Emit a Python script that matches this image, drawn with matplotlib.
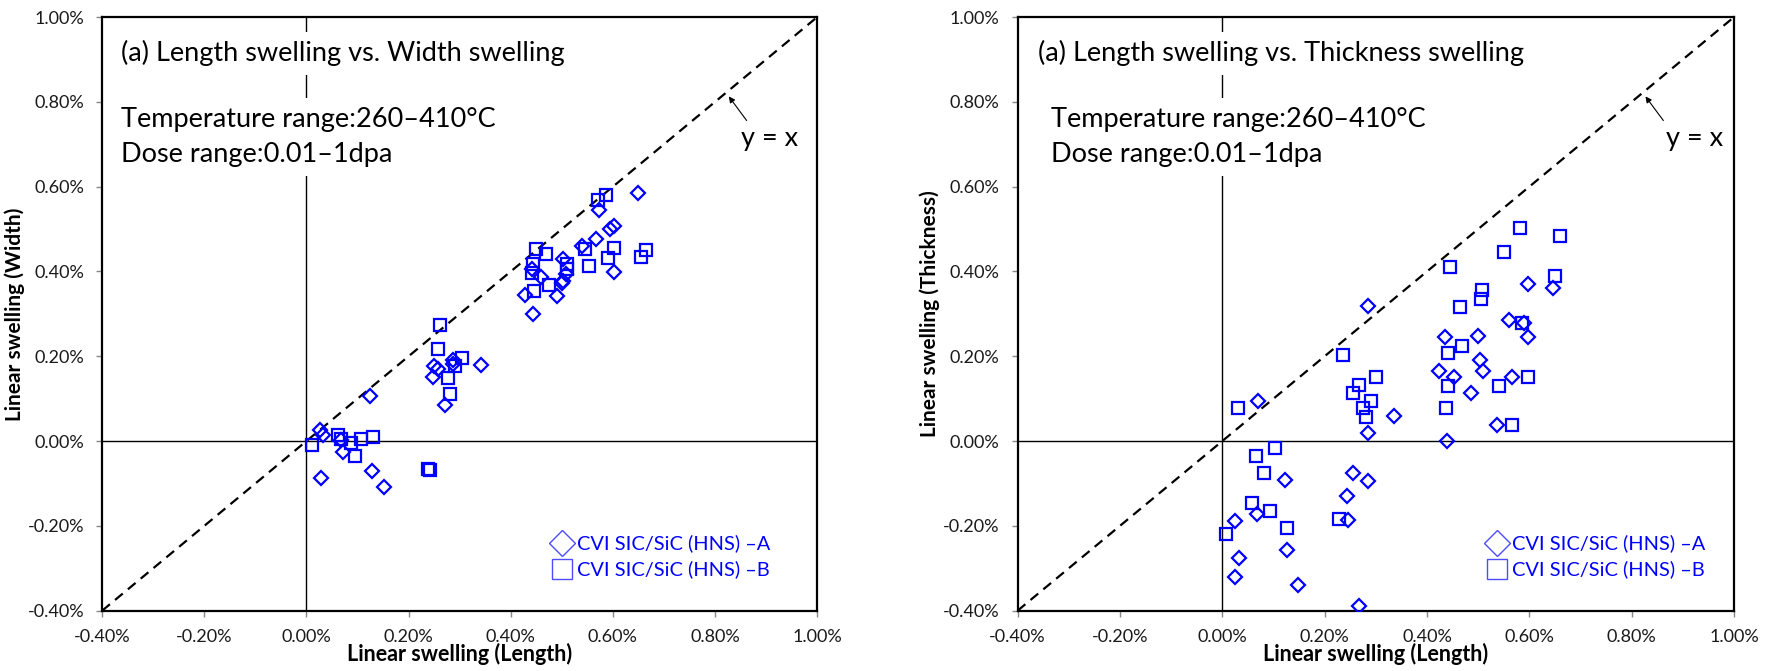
import matplotlib
matplotlib.use("Agg")
import matplotlib.pyplot as plt
from matplotlib.lines import Line2D
from matplotlib.ticker import FuncFormatter

plt.rcParams['font.family'] = ['Lato', 'DejaVu Sans']

# ---- Data (linear swelling, %) ----
# Panel 1: Length vs Width
len_A_w = [0.649, 0.572, 0.566, 0.594, 0.602, 0.539, 0.603, 0.502, 0.509, 0.503,
           0.500, 0.490, 0.459, 0.441, 0.427, 0.444, 0.341, 0.287, 0.287, 0.249,
           0.257, 0.248, 0.272, 0.125, 0.027, 0.033, 0.067, 0.071, 0.028, 0.128, 0.151]
width_A = [0.586, 0.546, 0.477, 0.499, 0.507, 0.460, 0.399, 0.430, 0.393, 0.377,
           0.372, 0.342, 0.388, 0.405, 0.344, 0.300, 0.180, 0.190, 0.182, 0.177,
           0.169, 0.152, 0.084, 0.107, 0.025, 0.015, 0.003, -0.026, -0.087, -0.071, -0.108]
len_B_w = [0.571, 0.587, 0.545, 0.602, 0.664, 0.655, 0.590, 0.554, 0.449, 0.469,
           0.444, 0.441, 0.474, 0.446, 0.510, 0.510, 0.261, 0.257, 0.305, 0.290,
           0.277, 0.282, 0.010, 0.061, 0.067, 0.087, 0.107, 0.130, 0.095, 0.238, 0.242]
width_B = [0.568, 0.581, 0.452, 0.456, 0.450, 0.434, 0.432, 0.413, 0.452, 0.442,
           0.417, 0.397, 0.368, 0.355, 0.417, 0.405, 0.273, 0.218, 0.196, 0.178,
           0.148, 0.110, -0.010, 0.015, 0.004, -0.004, 0.004, 0.010, -0.036, -0.066, -0.069]

# Panel 2: Length vs Thickness
len_A_t = [0.597, 0.646, 0.560, 0.589, 0.597, 0.436, 0.499, 0.503, 0.509, 0.423,
           0.453, 0.566, 0.486, 0.536, 0.439, 0.284, 0.336, 0.284, 0.069, 0.255,
           0.284, 0.244, 0.246, 0.122, 0.067, 0.025, 0.032, 0.025, 0.126, 0.147, 0.268]
thick_A = [0.370, 0.361, 0.286, 0.278, 0.246, 0.246, 0.248, 0.190, 0.166, 0.166,
           0.152, 0.152, 0.114, 0.039, 0.001, 0.319, 0.058, 0.019, 0.094, -0.075,
           -0.095, -0.130, -0.187, -0.092, -0.171, -0.188, -0.277, -0.321, -0.257, -0.340, -0.389]
len_B_t = [0.581, 0.659, 0.551, 0.444, 0.650, 0.507, 0.506, 0.465, 0.586, 0.469,
           0.442, 0.236, 0.301, 0.597, 0.268, 0.255, 0.541, 0.441, 0.290, 0.275,
           0.280, 0.438, 0.566, 0.030, 0.103, 0.065, 0.081, 0.058, 0.093, 0.126, 0.008, 0.228]
thick_B = [0.502, 0.484, 0.445, 0.410, 0.390, 0.356, 0.334, 0.317, 0.278, 0.225,
           0.207, 0.204, 0.150, 0.150, 0.133, 0.114, 0.131, 0.131, 0.094, 0.077,
           0.057, 0.077, 0.039, 0.077, -0.017, -0.035, -0.075, -0.147, -0.165, -0.205, -0.220, -0.184]

ticks = [-0.4, -0.2, 0.0, 0.2, 0.4, 0.6, 0.8, 1.0]
lims = (-0.4, 1.0)
titles = ["(a) Length swelling vs. Width swelling",
          "(a) Length swelling vs. Thickness swelling"]
ylabels = ["Linear swelling (Width)", "Linear swelling (Thickness)"]
xlabel = "Linear swelling (Length)"
cond1 = "Temperature range:260\u2013410\u00b0C"
cond2 = "Dose range:0.01\u20131dpa"
leg_labels = ["CVI SIC/SiC (HNS) \u2013A", "CVI SIC/SiC (HNS) \u2013B"]

BLUE = '#0000ff'
FS_TEXT = 19.5

fig = plt.figure(figsize=(17.81, 6.71), dpi=100)
ax1 = fig.add_axes([0.0574, 0.0900, 0.4014, 0.8845])
ax2 = fig.add_axes([0.5714, 0.0900, 0.4022, 0.8845])

panels = [
    (ax1, len_A_w, width_A, len_B_w, width_B, 0.0256, 0.0256, 0.893, 0.642),
    (ax2, len_A_t, thick_A, len_B_t, thick_B, 0.0288, 0.0472, 0.905, 0.668),
]

fmt = FuncFormatter(lambda v, p: f"{v:.2f}%")

for i, (ax, xa, ya, xb, yb, tx, cx, yx, lx) in enumerate(panels):
    ax.set_xlim(*lims)
    ax.set_ylim(*lims)
    ax.set_xticks(ticks)
    ax.set_yticks(ticks)
    ax.xaxis.set_major_formatter(fmt)
    ax.yaxis.set_major_formatter(fmt)
    ax.tick_params(direction='out', length=4, width=1, color='#888888',
                   labelsize=13, labelcolor='#1a1a1a', pad=9)
    for s in ax.spines.values():
        s.set_linewidth(1.6)
        s.set_color('black')

    ax.axhline(0, color='black', lw=1.0, zorder=1)
    ax.axvline(0, color='black', lw=1.0, zorder=1)
    ax.plot(lims, lims, color='black', lw=1.6, ls=(0, (4.5, 3.0)), zorder=2)

    ax.plot(xa, ya, ls='none', marker='D', ms=7.2, mfc='none', mec=BLUE, mew=1.6, zorder=4)
    ax.plot(xb, yb, ls='none', marker='s', ms=8.2, mfc='none', mec=BLUE, mew=1.6, zorder=4)

    ax.set_xlabel(xlabel, fontsize=15.5, fontweight='bold', labelpad=-1)
    ax.set_ylabel(ylabels[i], fontsize=15, fontweight='bold', labelpad=2)

    box = dict(facecolor='white', edgecolor='none', pad=6)
    ax.text(tx, 0.939, titles[i], transform=ax.transAxes, fontsize=FS_TEXT,
            ha='left', va='center', bbox=box, zorder=5)
    ax.text(cx, 0.828, cond1, transform=ax.transAxes, fontsize=FS_TEXT,
            ha='left', va='center', bbox=box, zorder=5)
    ax.text(cx, 0.768, cond2, transform=ax.transAxes, fontsize=FS_TEXT,
            ha='left', va='center', bbox=box, zorder=5)
    ax.text(yx, 0.795, "y = x", transform=ax.transAxes, fontsize=FS_TEXT,
            ha='left', va='center', zorder=5)
    ax.annotate('', xy=(0.827, 0.813), xytext=(0.862, 0.756),
                arrowprops=dict(arrowstyle='-|>', color='black', lw=0.8,
                                mutation_scale=9, shrinkA=0, shrinkB=0))

    handles = [Line2D([], [], ls='none', marker='D', ms=13, mfc='none', mec='#4d4dff', mew=1.0),
               Line2D([], [], ls='none', marker='s', ms=14, mfc='none', mec='#4d4dff', mew=1.0)]
    ax.legend(handles, leg_labels, loc='center left', bbox_to_anchor=(lx - 0.03, 0.091),
              frameon=False, fontsize=14.4, labelcolor=BLUE, handletextpad=0.15,
              labelspacing=0.4, handlelength=1.2, borderpad=0)

fig.savefig('out.png', dpi=100)
